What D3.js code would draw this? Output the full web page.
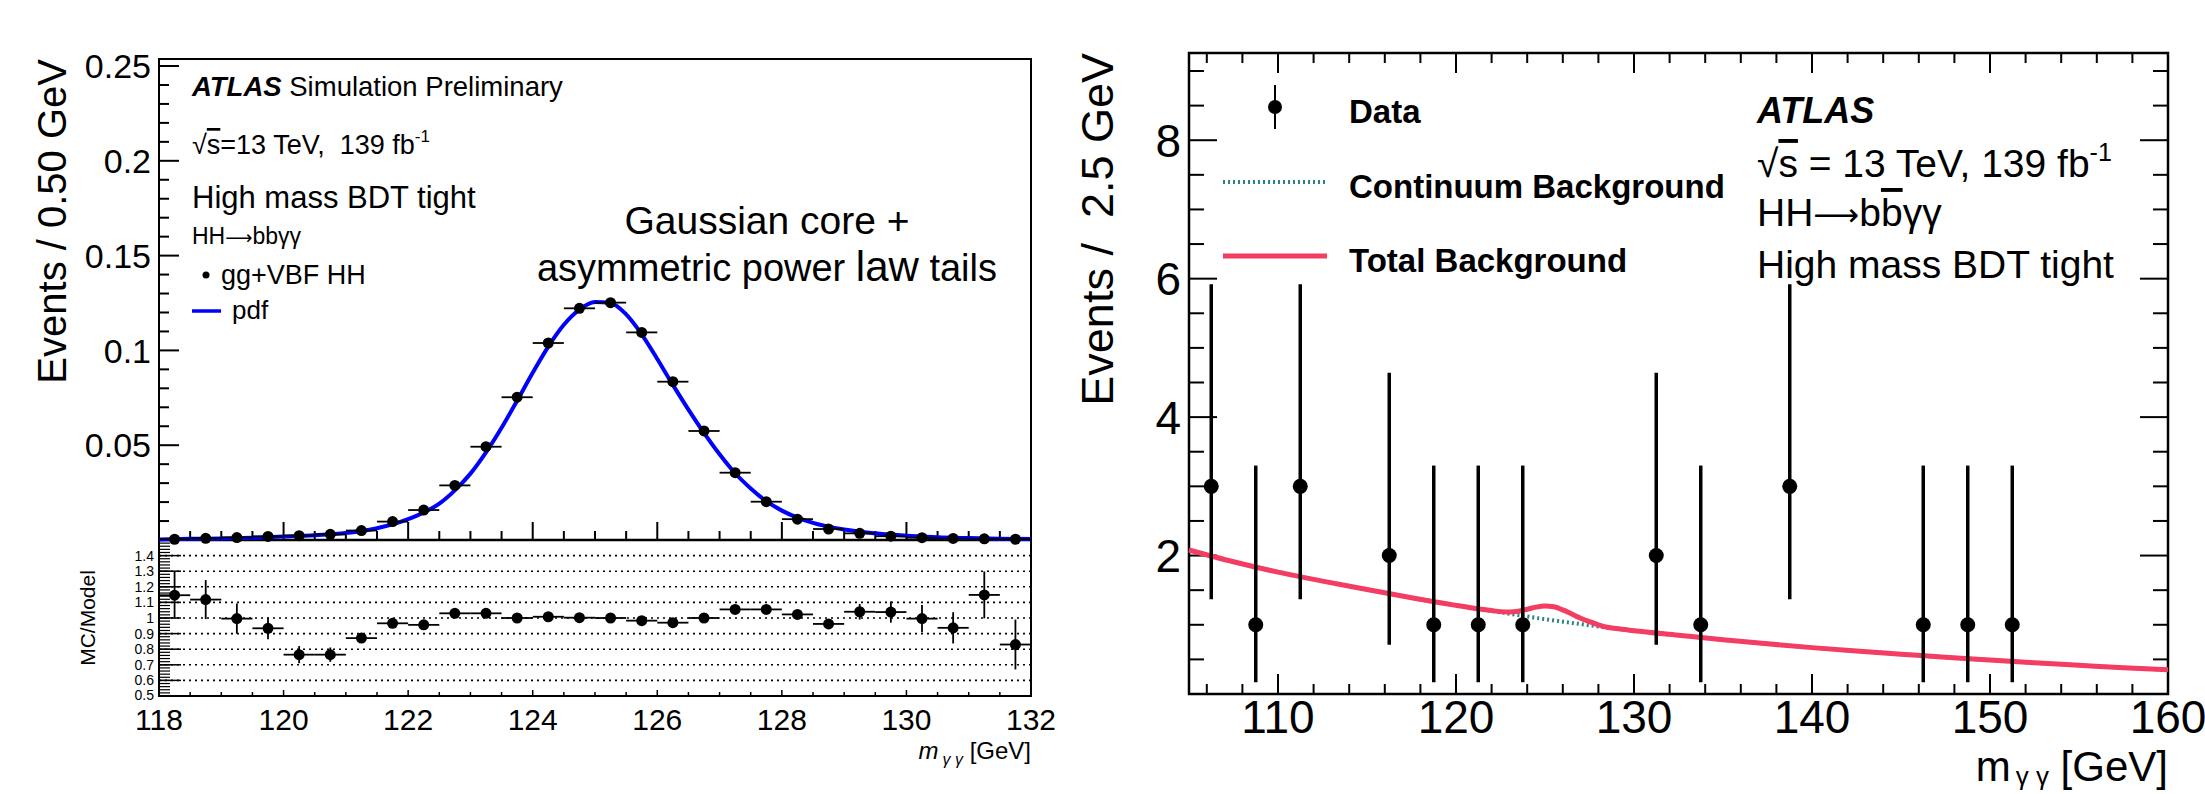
<!DOCTYPE html>
<html>
<head>
<meta charset="utf-8">
<script src="https://cdn.jsdelivr.net/npm/d3@7"></script>
<style>
  html, body { margin: 0; padding: 0; background: #fff; }
  svg text { font-family: "Liberation Sans", Arial, Helvetica, sans-serif; fill: #000; }
</style>
</head>
<body>
<svg id="chart" width="2205" height="794"></svg>
<script>
// ---------------- LEFT: signal MC fit ----------------
const sigBinCenters = [118.25,118.75,119.25,119.75,120.25,120.75,121.25,121.75,122.25,122.75,123.25,123.75,124.25,124.75,125.25,125.75,126.25,126.75,127.25,127.75,128.25,128.75,129.25,129.75,130.25,130.75,131.25,131.75];
const sigValues = [0.0004,0.0009,0.0013,0.0019,0.0023,0.0030,0.0050,0.0097,0.0158,0.0288,0.0492,0.0753,0.1039,0.1222,0.1252,0.1095,0.0835,0.0575,0.0355,0.0202,0.0110,0.0058,0.0035,0.0020,0.0012,0.0008,0.0006,0.0004];
const sigBinHalfWidth = 0.25;
const pdfX = [118,118.5,119,119.5,120,120.5,121,121.5,122,122.25,122.5,122.75,123,123.25,123.5,123.75,124,124.25,124.5,124.75,125,125.25,125.5,125.75,126,126.25,126.5,126.75,127,127.25,127.5,127.75,128,128.25,128.5,129,129.5,130,130.5,131,131.5,132];
const pdfY = [0.0003,0.0006,0.0008,0.0012,0.0018,0.0025,0.0037,0.0062,0.0110,0.0145,0.0192,0.0262,0.0350,0.0462,0.0592,0.0735,0.0882,0.1020,0.1135,0.1215,0.1255,0.1250,0.1190,0.1085,0.0955,0.0818,0.0688,0.0565,0.0452,0.0352,0.0272,0.0205,0.0155,0.0118,0.0090,0.0055,0.0035,0.0022,0.0014,0.0010,0.0007,0.0005];
const ratioValues = [1.146,1.118,0.996,0.934,0.765,0.765,0.871,0.966,0.956,1.030,1.030,1.000,1.008,1.002,1.000,0.983,0.970,1.000,1.055,1.055,1.023,0.962,1.040,1.038,0.996,0.937,1.148,0.830];
const ratioErrors = [0.150,0.125,0.097,0.070,0.055,0.046,0.030,0.015,0.010,0.006,0.005,0.004,0.004,0.003,0.003,0.004,0.005,0.006,0.008,0.010,0.014,0.020,0.050,0.068,0.087,0.100,0.150,0.160];
const leftXTicks = [118,120,122,124,126,128,130,132];
const leftYTicks = [0.05,0.1,0.15,0.2,0.25];
const ratioYTicks = [0.5,0.6,0.7,0.8,0.9,1,1.1,1.2,1.3,1.4];
const ratioGrid = [0.6,0.7,0.8,0.9,1.0,1.1,1.2,1.3,1.4];

// ---------------- RIGHT: data with background ----------------
const dataX = [106.25,108.75,111.25,116.25,118.75,121.25,123.75,131.25,133.75,138.75,146.25,148.75,151.25];
const dataN = [3,1,3,2,1,1,1,2,1,3,1,1,1];
const dataErrLow = [1.37,0.17,1.37,0.71,0.17,0.17,0.17,0.71,0.17,1.37,0.17,0.17,0.17];
const dataErrHigh = [5.92,3.30,5.92,4.64,3.30,3.30,3.30,4.64,3.30,5.92,3.30,3.30,3.30];
const contX = [105,107.5,110,112.5,115,117.5,120,121,122,123,124,125,126,127,128,129,130,132.5,135,137.5,140,142.5,145,147.5,150,152.5,155,157.5,160];
const contY = [2.08,1.91,1.76,1.63,1.51,1.39,1.28,1.24,1.20,1.16,1.12,1.08,1.045,1.01,0.975,0.945,0.915,0.85,0.785,0.725,0.67,0.62,0.575,0.53,0.49,0.45,0.415,0.38,0.35];
const totX = [105,107.5,110,112.5,115,117.5,120,121,122,122.5,123,123.5,124,124.5,125,125.5,126,126.5,127,127.5,128,128.5,129,130,132.5,135,137.5,140,142.5,145,147.5,150,152.5,155,157.5,160];
const totY = [2.08,1.91,1.76,1.63,1.51,1.39,1.28,1.24,1.205,1.19,1.185,1.195,1.225,1.255,1.27,1.26,1.215,1.155,1.095,1.045,1.0,0.965,0.945,0.915,0.85,0.785,0.725,0.67,0.62,0.575,0.53,0.49,0.45,0.415,0.38,0.35];
const rightXTicks = [110,120,130,140,150,160];
const rightYTicks = [2,4,6,8];

const svg = d3.select("#chart");
const NB = "\u00a0";

// ============ LEFT PANEL ============
const L = { x0: 159, x1: 1031, top: 59, mid: 540, bot: 696 };
const lx = d3.scaleLinear().domain([118, 132]).range([L.x0, L.x1]);
const ly = d3.scaleLinear().domain([0, 0.2537]).range([L.mid, L.top]);
const ry = d3.scaleLinear().domain([0.5, 1.5]).range([L.bot, L.mid]);

const gl = svg.append("g");

// ratio gridlines
gl.selectAll("line.grid").data(ratioGrid).join("line")
  .attr("x1", L.x0).attr("x2", L.x1)
  .attr("y1", d => ry(d)).attr("y2", d => ry(d))
  .attr("stroke", "#000").attr("stroke-width", 1.6).attr("stroke-dasharray", "2,4");

// top panel y axis ticks (major + minor)
const topMinor = d3.range(0, 0.2537, 0.01);
gl.selectAll("line.tymin").data(topMinor).join("line")
  .attr("x1", L.x0).attr("x2", d => L.x0 + (Math.abs(d / 0.05 - Math.round(d / 0.05)) < 1e-6 ? 20 : 10))
  .attr("y1", d => ly(d)).attr("y2", d => ly(d))
  .attr("stroke", "#000").attr("stroke-width", 2);
gl.selectAll("text.tyl").data(leftYTicks).join("text")
  .attr("x", L.x0 - 8).attr("y", d => ly(d))
  .attr("dy", "0.36em").attr("text-anchor", "end")
  .attr("font-size", 34).text(d => d);

// top panel x ticks at bottom (pointing up)
const topXMinor = d3.range(118, 132.001, 0.5);
gl.selectAll("line.txm").data(topXMinor).join("line")
  .attr("x1", d => lx(d)).attr("x2", d => lx(d))
  .attr("y1", L.mid).attr("y2", d => L.mid - (Math.abs(d % 2) < 1e-6 ? 18 : 9))
  .attr("stroke", "#000").attr("stroke-width", 2);

// ratio panel x ticks
gl.selectAll("line.rxm").data(topXMinor).join("line")
  .attr("x1", d => lx(d)).attr("x2", d => lx(d))
  .attr("y1", L.bot).attr("y2", d => L.bot - (Math.abs(d % 2) < 1e-6 ? 6 : 4))
  .attr("stroke", "#000").attr("stroke-width", 1.5);

// ratio y comb ticks
const ratioMinor = d3.range(0.5, 1.5001, 0.02);
gl.selectAll("line.rym").data(ratioMinor).join("line")
  .attr("x1", L.x0).attr("x2", L.x0 + 11)
  .attr("y1", d => ry(d)).attr("y2", d => ry(d))
  .attr("stroke", "#000").attr("stroke-width", 1.2);
gl.selectAll("line.ryM").data(ratioYTicks).join("line")
  .attr("x1", L.x0).attr("x2", L.x0 + 22)
  .attr("y1", d => ry(d)).attr("y2", d => ry(d))
  .attr("stroke", "#000").attr("stroke-width", 1.5);
gl.selectAll("text.ryl").data(ratioYTicks).join("text")
  .attr("x", L.x0 - 5).attr("y", d => ry(d))
  .attr("dy", d => d === 0.5 ? "0.3em" : "0.36em").attr("text-anchor", "end")
  .attr("font-size", 14).text(d => d);

// x labels
gl.selectAll("text.lxl").data(leftXTicks).join("text")
  .attr("x", d => lx(d)).attr("y", 730)
  .attr("text-anchor", "middle").attr("font-size", 30).text(d => d);

// frame
gl.append("rect").attr("x", L.x0).attr("y", L.top).attr("width", L.x1 - L.x0).attr("height", L.bot - L.top)
  .attr("fill", "none").attr("stroke", "#000").attr("stroke-width", 2);
gl.append("line").attr("x1", L.x0).attr("x2", L.x1).attr("y1", L.mid).attr("y2", L.mid)
  .attr("stroke", "#000").attr("stroke-width", 2.5);

// pdf curve
const pdfLine = d3.line().x((d, i) => lx(pdfX[i])).y(d => ly(d)).curve(d3.curveMonotoneX);
gl.append("path").datum(pdfY).attr("d", pdfLine)
  .attr("fill", "none").attr("stroke", "#0000ff").attr("stroke-width", 4);

// MC points
gl.selectAll("line.hx").data(sigValues).join("line")
  .attr("x1", (d, i) => lx(sigBinCenters[i] - sigBinHalfWidth))
  .attr("x2", (d, i) => lx(sigBinCenters[i] + sigBinHalfWidth))
  .attr("y1", d => ly(d)).attr("y2", d => ly(d))
  .attr("stroke", "#000").attr("stroke-width", 1.8);
gl.selectAll("circle.mc").data(sigValues).join("circle")
  .attr("cx", (d, i) => lx(sigBinCenters[i])).attr("cy", d => ly(d)).attr("r", 5.5).attr("fill", "#000");

// ratio points
gl.selectAll("line.rh").data(ratioValues).join("line")
  .attr("x1", (d, i) => lx(sigBinCenters[i] - sigBinHalfWidth))
  .attr("x2", (d, i) => lx(sigBinCenters[i] + sigBinHalfWidth))
  .attr("y1", d => ry(d)).attr("y2", d => ry(d))
  .attr("stroke", "#000").attr("stroke-width", 1.8);
gl.selectAll("line.rv").data(ratioValues).join("line")
  .attr("x1", (d, i) => lx(sigBinCenters[i])).attr("x2", (d, i) => lx(sigBinCenters[i]))
  .attr("y1", (d, i) => ry(d - ratioErrors[i])).attr("y2", (d, i) => ry(d + ratioErrors[i]))
  .attr("stroke", "#000").attr("stroke-width", 1.8);
gl.selectAll("circle.rp").data(ratioValues).join("circle")
  .attr("cx", (d, i) => lx(sigBinCenters[i])).attr("cy", d => ry(d)).attr("r", 5.5).attr("fill", "#000");

// axis titles
gl.append("text").attr("transform", `translate(66, ${L.top}) rotate(-90)`)
  .attr("text-anchor", "end").attr("font-size", 40).text("Events / 0.50 GeV");
gl.append("text").attr("transform", `translate(95, ${ry(1)}) rotate(-90)`)
  .attr("text-anchor", "middle").attr("font-size", 21).text("MC/Model");
const lxt = gl.append("text").attr("x", L.x1).attr("y", 759).attr("text-anchor", "end").attr("font-size", 24);
lxt.append("tspan").attr("font-style", "italic").text("m");
lxt.append("tspan").attr("font-style", "italic").attr("font-size", 16).attr("dx", 4).attr("dy", 6).text("γ" + NB + "γ");
lxt.append("tspan").attr("dy", -6).text(NB + "[GeV]");

// annotations left
const a1 = gl.append("text").attr("x", 192).attr("y", 96).attr("font-size", 27.5);
a1.append("tspan").attr("font-weight", "bold").attr("font-style", "italic").text("ATLAS");
a1.append("tspan").text(NB + "Simulation Preliminary");
const a2 = gl.append("text").attr("x", 192).attr("y", 154).attr("font-size", 27);
a2.append("tspan").text("√");
a2.append("tspan").attr("text-decoration", "overline").text("s");
a2.append("tspan").text("=13 TeV," + NB + NB + "139 fb");
a2.append("tspan").attr("font-size", 17).attr("dy", -12).text("-1");
gl.append("text").attr("x", 192).attr("y", 208).attr("font-size", 31).text("High mass BDT tight");
const a4 = gl.append("text").attr("x", 192).attr("y", 244).attr("font-size", 23);
a4.append("tspan").text("HH");
a4.append("tspan").attr("font-family", "DejaVu Sans").attr("font-size", 19).text("⟶");
a4.append("tspan").text("bbγγ");
gl.append("circle").attr("cx", 206).attr("cy", 275).attr("r", 3.5).attr("fill", "#000");
gl.append("text").attr("x", 221).attr("y", 284).attr("font-size", 27).text("gg+VBF HH");
gl.append("line").attr("x1", 192).attr("x2", 221).attr("y1", 311).attr("y2", 311)
  .attr("stroke", "#0000ff").attr("stroke-width", 3.5);
gl.append("text").attr("x", 232).attr("y", 319).attr("font-size", 26).text("pdf");
gl.append("text").attr("x", 767).attr("y", 234).attr("text-anchor", "middle").attr("font-size", 39).text("Gaussian core +");
const g2 = gl.append("text").attr("x", 767).attr("y", 281).attr("text-anchor", "middle").attr("font-size", 38);
g2.append("tspan").text("asymmetric power ");
g2.append("tspan").attr("font-size", 42).text("law");
g2.append("tspan").text(" tails");

// ============ RIGHT PANEL ============
const R = { x0: 1189, x1: 2168, top: 53, bot: 694 };
const rx = d3.scaleLinear().domain([105, 160]).range([R.x0, R.x1]);
const rY = d3.scaleLinear().domain([0, 9.26]).range([R.bot, R.top]);
const gr = svg.append("g");

// y ticks left & right
const rYMinor = d3.range(0.5, 9.26, 0.5);
gr.selectAll("line.ryl").data(rYMinor).join("line")
  .attr("x1", R.x0).attr("x2", d => R.x0 + (d % 2 === 0 ? 28 : 15))
  .attr("y1", d => rY(d)).attr("y2", d => rY(d)).attr("stroke", "#000").attr("stroke-width", 2);
gr.selectAll("line.ryr").data(rYMinor).join("line")
  .attr("x1", R.x1).attr("x2", d => R.x1 - (d % 2 === 0 ? 28 : 15))
  .attr("y1", d => rY(d)).attr("y2", d => rY(d)).attr("stroke", "#000").attr("stroke-width", 2);
// x ticks bottom & top
const rXMinor = d3.range(106, 160.001, 2);
gr.selectAll("line.rxb").data(rXMinor).join("line")
  .attr("x1", d => rx(d)).attr("x2", d => rx(d))
  .attr("y1", R.bot).attr("y2", d => R.bot - (d % 10 === 0 ? 20 : 10)).attr("stroke", "#000").attr("stroke-width", 2);
gr.selectAll("line.rxt").data(rXMinor).join("line")
  .attr("x1", d => rx(d)).attr("x2", d => rx(d))
  .attr("y1", R.top).attr("y2", d => R.top + (d % 10 === 0 ? 20 : 10)).attr("stroke", "#000").attr("stroke-width", 2);

gr.append("rect").attr("x", R.x0).attr("y", R.top).attr("width", R.x1 - R.x0).attr("height", R.bot - R.top)
  .attr("fill", "none").attr("stroke", "#000").attr("stroke-width", 2.5);

gr.selectAll("text.rytl").data(rightYTicks).join("text")
  .attr("x", R.x0 - 8).attr("y", d => rY(d)).attr("dy", "0.36em")
  .attr("text-anchor", "end").attr("font-size", 46).text(d => d);
gr.selectAll("text.rxtl").data(rightXTicks).join("text")
  .attr("x", d => rx(d)).attr("y", 733)
  .attr("text-anchor", "middle").attr("font-size", 46).text(d => d);

// curves: continuum under total
const contLine = d3.line().x((d, i) => rx(contX[i])).y(d => rY(d)).curve(d3.curveMonotoneX);
const totLine = d3.line().x((d, i) => rx(totX[i])).y(d => rY(d)).curve(d3.curveMonotoneX);
gr.append("path").datum(contY).attr("d", contLine)
  .attr("fill", "none").attr("stroke", "#2b8384").attr("stroke-width", 4).attr("stroke-dasharray", "2,3");
gr.append("path").datum(totY).attr("d", totLine)
  .attr("fill", "none").attr("stroke", "#f43d62").attr("stroke-width", 5);

// data
gr.selectAll("line.de").data(dataN).join("line")
  .attr("x1", (d, i) => rx(dataX[i])).attr("x2", (d, i) => rx(dataX[i]))
  .attr("y1", (d, i) => rY(dataErrLow[i])).attr("y2", (d, i) => rY(dataErrHigh[i]))
  .attr("stroke", "#000").attr("stroke-width", 3.5);
gr.selectAll("circle.dp").data(dataN).join("circle")
  .attr("cx", (d, i) => rx(dataX[i])).attr("cy", d => rY(d)).attr("r", 7.5).attr("fill", "#000");

// axis titles
gr.append("text").attr("transform", `translate(1113, ${R.top}) rotate(-90)`)
  .attr("text-anchor", "end").attr("font-size", 45).text("Events /" + NB + NB + "2.5 GeV");
const rxt = gr.append("text").attr("x", R.x1).attr("y", 781).attr("text-anchor", "end").attr("font-size", 42);
rxt.append("tspan").text("m");
rxt.append("tspan").attr("font-size", 26).attr("dx", 5).attr("dy", 4).text("γ" + NB + "γ");
rxt.append("tspan").attr("dy", -4).text(NB + "[GeV]");

// legend
gr.append("line").attr("x1", 1275).attr("x2", 1275).attr("y1", 85).attr("y2", 129).attr("stroke", "#000").attr("stroke-width", 2);
gr.append("circle").attr("cx", 1275).attr("cy", 107).attr("r", 7).attr("fill", "#000");
gr.append("text").attr("x", 1349).attr("y", 123).attr("font-size", 33).attr("font-weight", "bold").text("Data");
gr.append("line").attr("x1", 1223).attr("x2", 1327).attr("y1", 182).attr("y2", 182)
  .attr("stroke", "#2b8384").attr("stroke-width", 4).attr("stroke-dasharray", "2,3");
gr.append("text").attr("x", 1349).attr("y", 198).attr("font-size", 33).attr("font-weight", "bold").text("Continuum Background");
gr.append("line").attr("x1", 1223).attr("x2", 1327).attr("y1", 256).attr("y2", 256)
  .attr("stroke", "#f43d62").attr("stroke-width", 5);
gr.append("text").attr("x", 1349).attr("y", 272).attr("font-size", 33).attr("font-weight", "bold").text("Total Background");

// ATLAS text right
gr.append("text").attr("x", 1757).attr("y", 123).attr("font-size", 36).attr("font-weight", "bold").attr("font-style", "italic").text("ATLAS");
const b2 = gr.append("text").attr("x", 1757).attr("y", 177).attr("font-size", 39);
b2.append("tspan").text("√");
b2.append("tspan").attr("text-decoration", "overline").text("s");
b2.append("tspan").text(" = 13 TeV, 139 fb");
b2.append("tspan").attr("font-size", 25).attr("dy", -16).text("-1");
const b3 = gr.append("text").attr("x", 1757).attr("y", 226).attr("font-size", 39);
b3.append("tspan").text("HH");
b3.append("tspan").attr("font-family", "DejaVu Sans").attr("font-size", 32).text("⟶");
b3.append("tspan").text("b");
b3.append("tspan").attr("text-decoration", "overline").text("b");
b3.append("tspan").text("γγ");
gr.append("text").attr("x", 1757).attr("y", 278).attr("font-size", 39).text("High mass BDT tight");
</script>
</body>
</html>
